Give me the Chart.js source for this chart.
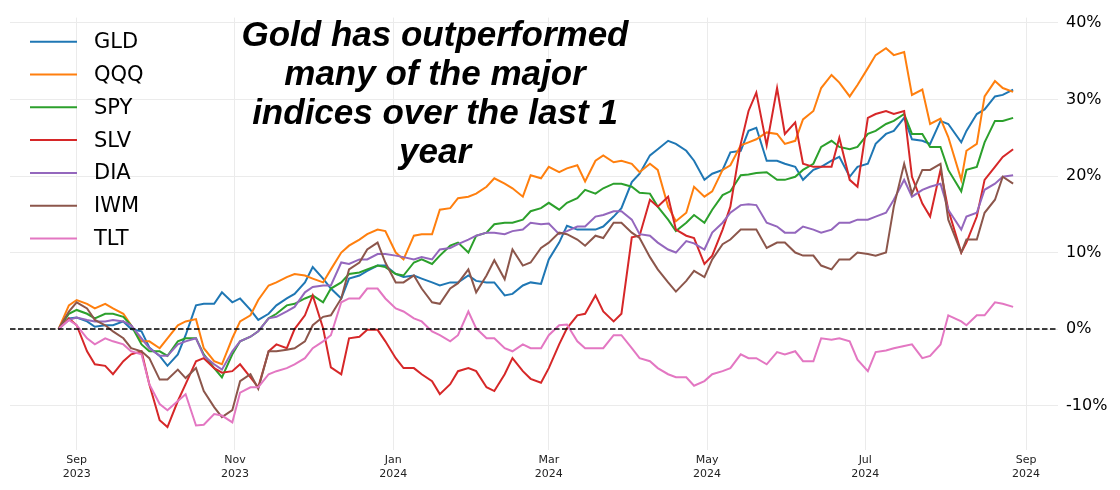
<!DOCTYPE html>
<html>
<head>
<meta charset="utf-8">
<script src="https://cdn.jsdelivr.net/npm/chart.js@4.4.1/dist/chart.umd.min.js"></script>
<style>
    html, body { margin: 0; padding: 0; background: #fff; }
    #wrap { width: 1120px; height: 490px; }
</style>
</head>
<body>
<div id="wrap"><canvas id="chart" width="1120" height="490"></canvas></div>
<script>
// sample dates (twice a week, plus a couple of extra days on big moves)
const dates = [
    "2023-08-25", "2023-08-29", "2023-09-01", "2023-09-05", "2023-09-08", "2023-09-12",
    "2023-09-15", "2023-09-19", "2023-09-22", "2023-09-26", "2023-09-29", "2023-10-03",
    "2023-10-06", "2023-10-10", "2023-10-13", "2023-10-17", "2023-10-20", "2023-10-24",
    "2023-10-27", "2023-10-31", "2023-11-03", "2023-11-07", "2023-11-10", "2023-11-14",
    "2023-11-17", "2023-11-21", "2023-11-24", "2023-11-28", "2023-12-01", "2023-12-05",
    "2023-12-08", "2023-12-12", "2023-12-15", "2023-12-19", "2023-12-22", "2023-12-26",
    "2023-12-29", "2024-01-02", "2024-01-05", "2024-01-09", "2024-01-12", "2024-01-16",
    "2024-01-19", "2024-01-23", "2024-01-26", "2024-01-30", "2024-02-02", "2024-02-06",
    "2024-02-09", "2024-02-13", "2024-02-16", "2024-02-20", "2024-02-23", "2024-02-27",
    "2024-03-01", "2024-03-05", "2024-03-08", "2024-03-12", "2024-03-15", "2024-03-19",
    "2024-03-22", "2024-03-26", "2024-03-29", "2024-04-02", "2024-04-05", "2024-04-09",
    "2024-04-12", "2024-04-16", "2024-04-19", "2024-04-23", "2024-04-26", "2024-04-30",
    "2024-05-03", "2024-05-07", "2024-05-10", "2024-05-14", "2024-05-17", "2024-05-20",
    "2024-05-24", "2024-05-28", "2024-05-31", "2024-06-04", "2024-06-07", "2024-06-11",
    "2024-06-14", "2024-06-18", "2024-06-21", "2024-06-25", "2024-06-28", "2024-07-02",
    "2024-07-05", "2024-07-09", "2024-07-12", "2024-07-16", "2024-07-19", "2024-07-23",
    "2024-07-26", "2024-07-30", "2024-08-02", "2024-08-07", "2024-08-09", "2024-08-13",
    "2024-08-16", "2024-08-20", "2024-08-23", "2024-08-27"
];

// cumulative return in %
const gld = [
    0, 1.4, 1.5, 1.0, 0.3, 0.5, 0.5, 1.0, 0.0, -0.3, -2.4, -3.5,
    -4.8, -3.3, -0.8, 3.1, 3.3, 3.3, 4.8, 3.5, 4.0, 2.5, 1.2, 2.0,
    3.1, 4.0, 4.6, 6.1, 8.1, 6.6, 5.3, 4.0, 6.6, 7.0, 7.6, 8.3,
    8.3, 7.2, 6.8, 7.0, 6.6, 6.1, 5.7, 6.1, 6.1, 7.0, 6.3, 6.1,
    6.1, 4.4, 4.6, 5.7, 6.1, 5.9, 9.1, 11.3, 13.5, 13.0, 13.0, 13.0,
    13.4, 14.7, 15.8, 19.2, 20.3, 22.7, 23.5, 24.6, 24.2, 23.3, 22.0, 19.5,
    20.3, 20.8, 23.1, 23.3, 25.9, 26.3, 22.0, 22.0, 21.6, 21.2, 19.5, 20.8,
    21.2, 22.0, 22.5, 19.9, 21.2, 21.6, 24.2, 25.5, 25.9, 27.6, 24.8, 24.6,
    24.2, 27.2, 26.8, 24.4, 25.9, 28.1, 28.7, 30.4, 30.6, 31.3
];
const qqq = [
    0, 3.1, 3.8, 3.3, 2.7, 3.3, 2.7, 2.0, 0.5, -1.6, -1.6, -2.5,
    -1.2, 0.5, 1.0, 1.3, -2.5, -4.2, -4.6, -1.2, 1.0, 1.8, 3.8, 5.7,
    6.1, 6.8, 7.2, 7.0, 6.6, 6.1, 7.8, 10.0, 10.9, 11.7, 12.4, 13.0,
    12.8, 10.0, 9.1, 12.2, 12.4, 12.4, 15.6, 15.8, 17.1, 17.3, 17.7, 18.6,
    19.7, 19.0, 18.4, 17.3, 20.1, 19.7, 21.2, 20.5, 21.0, 21.4, 19.3, 22.0,
    22.7, 21.8, 22.0, 21.6, 20.5, 21.6, 20.8, 16.0, 14.1, 15.2, 18.6, 17.3,
    18.0, 20.8, 21.4, 24.0, 24.4, 24.8, 25.7, 25.5, 24.2, 24.6, 27.4, 28.5,
    31.5, 33.2, 32.2, 30.4, 31.9, 34.1, 35.8, 36.7, 35.8, 36.2, 30.6, 31.3,
    26.8, 27.5, 25.1, 19.5, 23.3, 24.2, 30.4, 32.4, 31.5, 31.0
];
const spy = [
    0, 2.0, 2.5, 2.0, 1.4, 2.0, 2.0, 1.6, 0.5, -2.0, -2.9, -2.9,
    -3.5, -1.6, -1.2, -1.2, -3.3, -5.1, -6.3, -3.3, -1.6, -1.0, -0.3, 1.4,
    2.0, 3.1, 3.3, 4.0, 4.4, 3.5, 5.3, 6.1, 7.2, 7.4, 7.8, 8.3,
    8.1, 7.2, 7.0, 8.7, 9.1, 8.5, 9.6, 10.9, 11.3, 10.0, 12.2, 12.6,
    13.7, 13.9, 13.9, 14.3, 15.4, 15.8, 16.5, 15.6, 16.5, 17.1, 18.2, 17.7,
    18.4, 19.0, 19.0, 18.6, 17.8, 17.7, 16.0, 14.3, 12.8, 13.9, 14.9, 13.9,
    15.6, 17.5, 18.0, 20.1, 20.2, 20.4, 20.5, 19.5, 19.5, 19.9, 20.8, 21.6,
    23.8, 24.6, 23.8, 23.5, 23.8, 25.5, 25.9, 26.8, 27.2, 28.1, 25.5, 25.5,
    23.8, 23.8, 20.8, 18.0, 20.8, 21.2, 24.4, 27.2, 27.2, 27.6
];
const slv = [
    0, 1.4, 0.5, -2.9, -4.6, -4.8, -5.9, -4.2, -3.3, -2.9, -7.2, -11.9,
    -12.8, -9.4, -7.2, -4.2, -3.8, -5.1, -5.7, -5.5, -4.6, -6.3, -7.6, -2.9,
    -2.0, -2.5, 0.0, 1.8, 4.4, 0.1, -5.0, -5.9, -1.2, -1.0, -0.1, -0.1,
    -1.6, -3.8, -5.1, -5.1, -5.9, -6.8, -8.5, -7.2, -5.5, -5.1, -5.5, -7.6,
    -8.1, -5.9, -3.8, -5.5, -6.5, -7.0, -5.1, -2.0, 0.1, 1.8, 2.0, 4.4,
    2.3, 1.0, 2.0, 12.0, 12.2, 16.9, 16.0, 17.3, 13.0, 12.2, 11.9, 8.5,
    9.6, 13.0, 16.0, 24.2, 28.5, 30.9, 24.0, 31.5, 25.5, 27.0, 21.6, 21.2,
    21.2, 21.2, 25.0, 19.5, 18.6, 27.6, 28.1, 28.5, 28.1, 28.5, 19.9, 16.4,
    14.7, 20.8, 15.6, 10.0, 11.3, 14.7, 19.5, 21.2, 22.5, 23.5
];
const dia = [
    0, 1.2, 1.5, 1.2, 1.0, 1.0, 1.2, 1.0, 0.5, -1.2, -2.5, -3.5,
    -3.5, -2.0, -1.6, -1.2, -3.5, -4.6, -5.3, -2.9, -1.6, -1.0, -0.3, 1.4,
    1.6, 2.3, 2.9, 4.8, 5.5, 5.7, 5.7, 8.7, 8.5, 9.1, 9.1, 9.8,
    9.8, 9.6, 9.4, 9.1, 9.4, 9.1, 10.4, 10.6, 11.1, 11.7, 12.2, 12.6,
    12.6, 12.4, 12.8, 13.0, 13.9, 13.7, 13.8, 12.4, 12.8, 13.4, 13.4, 14.7,
    14.9, 15.4, 15.4, 14.3, 12.4, 12.2, 11.3, 10.4, 10.0, 11.5, 11.2, 10.4,
    12.6, 13.9, 15.2, 16.2, 16.3, 16.2, 13.9, 13.4, 12.6, 12.6, 13.4, 13.0,
    12.6, 13.0, 13.9, 13.9, 14.3, 14.3, 14.7, 15.2, 16.9, 19.5, 17.3, 18.2,
    18.6, 19.0, 15.6, 13.0, 14.7, 15.2, 18.2, 19.0, 19.9, 20.1
];
const iwm = [
    0, 2.3, 3.5, 2.7, 1.2, 0.5, -0.3, -1.2, -2.5, -2.9, -3.8, -6.6,
    -6.6, -5.3, -6.4, -5.1, -8.1, -10.2, -11.5, -10.6, -6.8, -5.9, -7.8, -2.9,
    -2.9, -2.7, -2.5, -1.6, 0.5, 1.6, 1.8, 4.0, 7.8, 8.7, 10.4, 11.3,
    8.7, 6.1, 6.1, 7.0, 5.3, 3.5, 3.3, 5.3, 6.0, 7.8, 4.8, 7.0,
    9.0, 6.5, 10.4, 8.3, 8.7, 10.6, 11.3, 12.6, 12.4, 11.7, 10.9, 12.2,
    11.9, 13.9, 13.9, 12.6, 11.9, 9.4, 7.8, 6.1, 4.9, 6.3, 7.6, 6.8,
    9.1, 11.1, 11.7, 13.0, 13.0, 13.0, 10.6, 11.3, 11.3, 10.0, 9.6, 9.6,
    8.3, 7.8, 9.1, 9.1, 10.0, 9.8, 9.6, 10.0, 16.0, 21.6, 17.7, 20.8,
    20.8, 21.6, 14.3, 10.0, 11.7, 11.7, 15.2, 16.9, 19.9, 19.0
];
const tlt = [
    0, 1.2, 0.5, -1.2, -2.0, -1.2, -1.6, -2.0, -2.9, -3.3, -7.2, -9.8,
    -10.6, -9.4, -8.5, -12.6, -12.5, -11.1, -11.3, -12.2, -8.3, -7.6, -7.6, -5.9,
    -5.5, -5.1, -4.6, -3.8, -2.5, -1.6, -0.8, 3.5, 4.0, 4.0, 5.3, 5.3,
    4.0, 2.7, 2.3, 1.4, 1.0, -0.3, -0.8, -1.6, -0.8, 2.3, 0.1, -1.2,
    -1.2, -2.5, -2.9, -2.0, -2.5, -2.5, -0.8, 0.5, 0.6, -1.6, -2.5, -2.5,
    -2.5, -0.8, -0.8, -2.5, -3.8, -4.2, -5.1, -5.9, -6.3, -6.3, -7.4, -6.8,
    -5.9, -5.5, -5.1, -3.3, -3.8, -3.8, -4.6, -3.0, -3.3, -2.9, -4.2, -4.2,
    -1.2, -1.4, -1.2, -1.6, -4.0, -5.5, -3.0, -2.8, -2.5, -2.2, -2.0, -3.8,
    -3.5, -2.0, 1.8, 1.0, 0.5, 1.8, 1.8, 3.5, 3.3, 2.9
];

const seriesNames = ["GLD", "QQQ", "SPY", "SLV", "DIA", "IWM", "TLT"];
const seriesValues = [gld, qqq, spy, slv, dia, iwm, tlt];
const seriesColors = ["#1f77b4", "#ff7f0e", "#2ca02c", "#d62728", "#9467bd", "#8c564b", "#e377c2"];

const xTickDates = ["2023-09-01", "2023-11-01", "2024-01-01", "2024-03-01", "2024-05-01", "2024-07-01", "2024-09-01"];
const xTickLabels = [["Sep", "2023"], ["Nov", "2023"], ["Jan", "2024"], ["Mar", "2024"], ["May", "2024"], ["Jul", "2024"], ["Sep", "2024"]];
const yTicks = [-10, 0, 10, 20, 30, 40];

const titleLines = ["Gold has outperformed", "many of the major", "indices over the last 1", "year"];

const xMin = Date.parse("2023-08-06") + 0.3 * 86400000;
const xMax = Date.parse("2024-09-13") + 0.3 * 86400000;

const datasets = seriesNames.map((name, i) => ({
    label: name,
    data: dates.map((d, j) => ({ x: Date.parse(d), y: seriesValues[i][j] })),
    borderColor: seriesColors[i],
    backgroundColor: seriesColors[i],
    borderWidth: 2,
    pointRadius: 0,
    tension: 0,
    fill: false,
    order: seriesNames.length - i, // later series on top, like matplotlib
}));

// dashed zero line, drawn over the series
const zeroLine = {
    id: "zeroLine",
    afterDatasetsDraw(chart) {
        const { ctx, chartArea, scales } = chart;
        const y = scales.y.getPixelForValue(0);
        ctx.save();
        ctx.strokeStyle = "#000";
        ctx.lineWidth = 1.5;
        ctx.setLineDash([5.5, 2.5]);
        ctx.beginPath();
        ctx.moveTo(chartArea.left, y);
        ctx.lineTo(chartArea.right, y);
        ctx.stroke();
        ctx.restore();
    },
};

// legend in the upper left + the big title inside the plot
const overlay = {
    id: "overlay",
    afterDraw(chart) {
        const ctx = chart.ctx;
        ctx.save();
        chart.data.datasets.forEach((ds, i) => {
            const y = 41.7 + i * 32.8;
            ctx.strokeStyle = ds.borderColor;
            ctx.lineWidth = 2;
            ctx.beginPath();
            ctx.moveTo(30, y);
            ctx.lineTo(77, y);
            ctx.stroke();
            ctx.fillStyle = "#000";
            ctx.font = '21px "DejaVu Sans"';
            ctx.textAlign = "left";
            ctx.textBaseline = "middle";
            ctx.fillText(ds.label, 94, y + 1);
        });

        ctx.fillStyle = "#000";
        ctx.font = 'italic bold 35px "Liberation Sans", Arial, sans-serif';
        ctx.textAlign = "center";
        ctx.textBaseline = "alphabetic";
        titleLines.forEach((line, i) => {
            ctx.fillText(line, 435, 46 + i * 39);
        });
        ctx.restore();
    },
};

const ctx = document.getElementById("chart").getContext("2d");
const myChart = new Chart(ctx, {
    type: "line",
    data: { datasets: datasets },
    options: {
        responsive: false,
        animation: false,
        devicePixelRatio: 1,
        layout: { padding: { left: 10, top: 12, right: 0, bottom: 0 } },
        plugins: {
            legend: { display: false },
            tooltip: { enabled: false },
        },
        scales: {
            x: {
                type: "linear",
                min: xMin,
                max: xMax,
                afterBuildTicks: (scale) => {
                    scale.ticks = xTickDates.map((d) => ({ value: Date.parse(d) }));
                },
                afterFit: (scale) => { scale.height = 40; },
                grid: { color: "#ebebeb", lineWidth: 1, drawTicks: false },
                border: { display: false },
                ticks: {
                    autoSkip: false,
                    maxRotation: 0,
                    padding: 4,
                    color: "#222",
                    font: { family: "DejaVu Sans", size: 11 },
                    callback: (value) => {
                        const idx = xTickDates.findIndex((d) => Date.parse(d) == value);
                        return idx >= 0 ? xTickLabels[idx] : "";
                    },
                },
            },
            y: {
                position: "right",
                min: -15.8,
                max: 40.7,
                afterBuildTicks: (scale) => {
                    scale.ticks = yTicks.map((v) => ({ value: v }));
                },
                afterFit: (scale) => { scale.width = 62; },
                grid: { color: "#ebebeb", lineWidth: 1, drawTicks: false },
                border: { display: false },
                ticks: {
                    padding: 8,
                    color: "#000",
                    font: { family: "DejaVu Sans", size: 16 },
                    callback: (value) => value + "%",
                },
            },
        },
    },
    plugins: [zeroLine, overlay],
});
</script>
</body>
</html>
